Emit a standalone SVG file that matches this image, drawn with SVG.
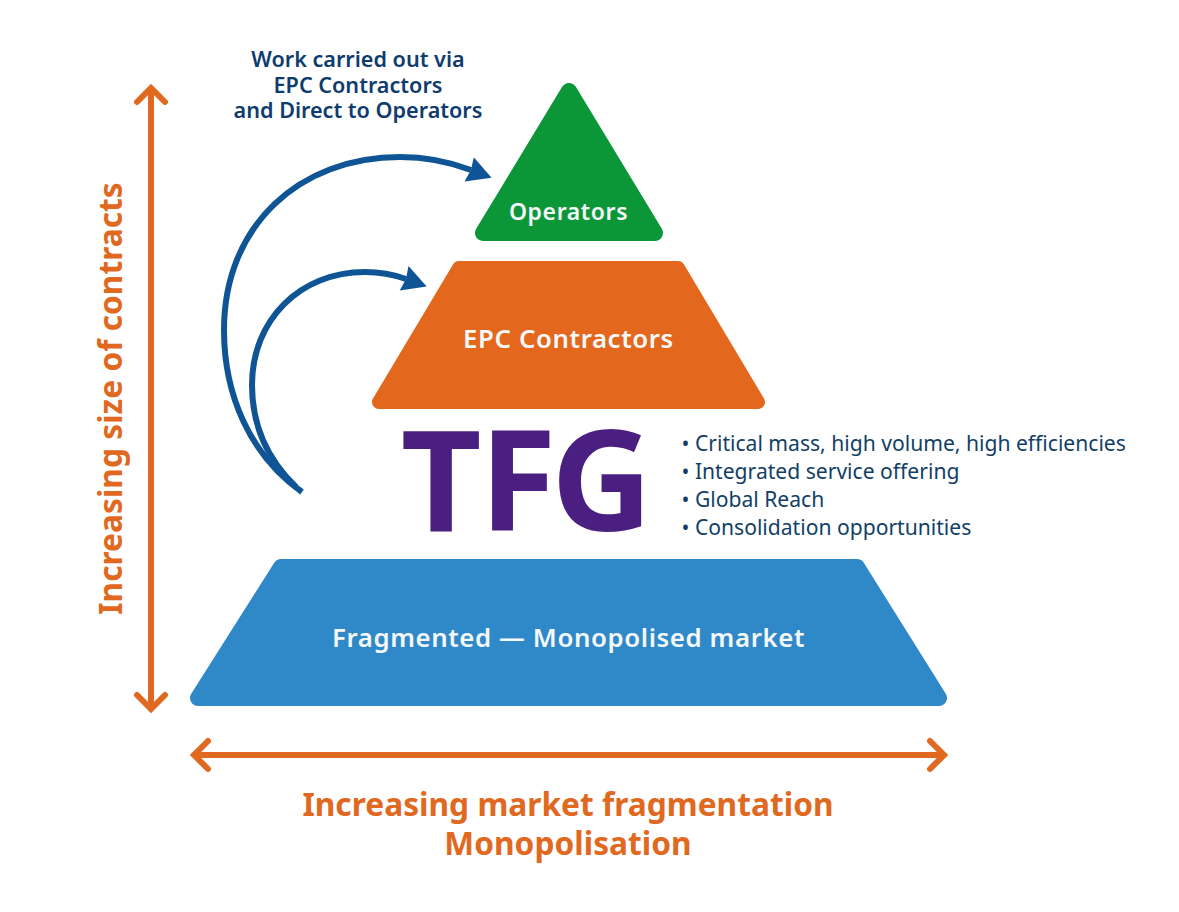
<svg xmlns="http://www.w3.org/2000/svg" width="1179" height="912" viewBox="0 0 1179 912">
<style>
text{font-family:"Noto Sans","Open Sans","Liberation Sans",sans-serif}
.lbl{font-weight:600;fill:#f4f8f8;text-anchor:middle;font-size:25.800px;letter-spacing:.6px}
.navy{font-weight:600;fill:#0f3c6e;text-anchor:middle;font-size:21.600px}
.or{font-weight:700;fill:#e0691f;text-anchor:middle;font-size:31.700px}
.bul{fill:#123f66;font-size:21.100px}
.ol{fill:none;stroke:#e0691f;stroke-width:6;stroke-linecap:round;stroke-linejoin:miter}
.bl{fill:none;stroke:#0f5596;stroke-width:6}
.shape{stroke-width:16;stroke-linejoin:round}
</style>
<defs>
<marker id="ah" markerUnits="userSpaceOnUse" markerWidth="26" markerHeight="30" refX="2" refY="14" orient="auto"><path d="M0,1L24,14L0,27L2,14Z" fill="#0f5596"/></marker>
</defs>
<rect width="1179" height="912" fill="#fff"/>
<g id="connectors">
<path class="bl" d="M302,492C250,455 224,395 224,330C224,225 300,157 400,157C425,157 450,162 471,170" marker-end="url(#ah)"/>
<path class="bl" d="M296,487C268,460 252,425 252,385C252,320 300,272 365,272C380,272 392,274 406,279" marker-end="url(#ah)"/>
<path class="ol" d="M151,88V709M137,102L151,88L165,102M137,695L151,709L165,695"/>
<path class="ol" d="M194,755H944M208,741L194,755L208,769M930,741L944,755L930,769"/>
</g>
<g id="operators"><polygon class="shape" points="569,91 483,233 655,233" fill="#0b9638" stroke="#0b9638"/><text class="lbl" x="568.500" y="220" style="font-size:23px">Operators</text></g>
<g id="epc"><polygon class="shape" points="459,268 678,268 758,402 379,402" fill="#e3671c" stroke="#e3671c" style="stroke-width:14"/><text class="lbl" x="568.500" y="348">EPC Contractors</text></g>
<g id="market"><polygon class="shape" points="281,567 857,567 939,698 198,698" fill="#2f88c8" stroke="#2f88c8"/><text class="lbl" x="568.500" y="647">Fragmented — Monopolised market</text></g>
<g id="tfg"><text x="400.800 479.500 551" y="531" style="font-size:140px;font-weight:700;fill:#4b1e82">TFG</text></g>
<g id="bullets">
<text class="bul" x="681.500" y="451">• Critical mass, high volume, high efficiencies</text>
<text class="bul" x="681.500" y="479">• Integrated service offering</text>
<text class="bul" x="681.500" y="507">• Global Reach</text>
<text class="bul" x="681.500" y="535">• Consolidation opportunities</text>
</g>
<g id="caption">
<text class="navy" x="358" y="67">Work carried out via</text>
<text class="navy" x="358" y="93">EPC Contractors</text>
<text class="navy" x="358" y="118">and Direct to Operators</text>
</g>
<text class="or" transform="translate(122,398.500) rotate(-90)">Increasing size of contracts</text>
<text class="or" x="568" y="816">Increasing market fragmentation</text>
<text class="or" x="568" y="855">Monopolisation</text>
</svg>
